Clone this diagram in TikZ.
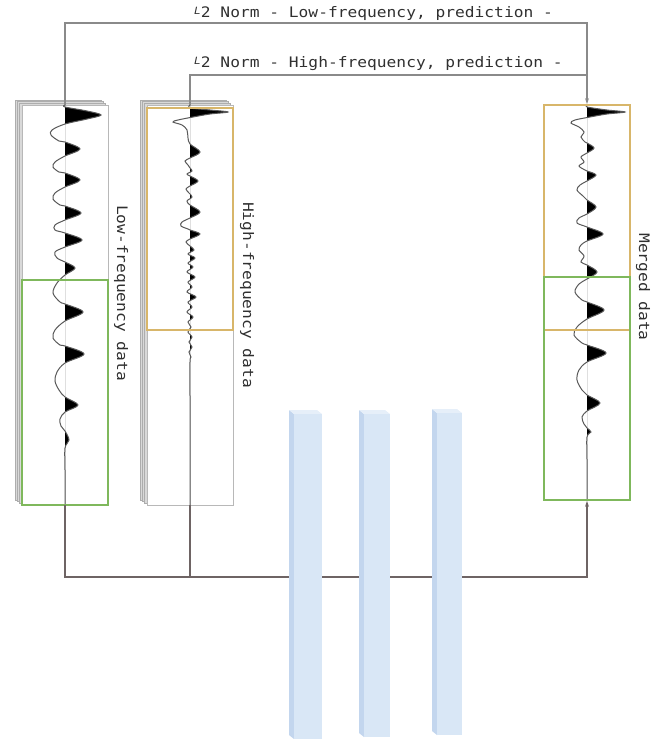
\documentclass[tikz,border=0pt]{standalone}
\usepackage{fontspec}
\newfontfamily\monolabel[FakeStretch=1.12]{DejaVu Sans Mono}
\usetikzlibrary{arrows.meta}

\definecolor{normgray}{HTML}{8A8A8A}
\definecolor{flowgray}{HTML}{6E6464}
\definecolor{boxgreen}{HTML}{7FB85C}
\definecolor{boxorange}{HTML}{D8B66A}
\definecolor{barblue}{HTML}{D9E7F6}
\definecolor{barside}{HTML}{C3D6EE}
\definecolor{bartop}{HTML}{E6EFF9}
\definecolor{textgray}{HTML}{303030}

\tikzset{
  panel/.style={draw=black!28, fill=white, line width=0.7pt, minimum width=86pt, minimum height=400pt, inner sep=0pt},
  sheet/.style={draw=black!32, fill=black!15, line width=0.5pt},
  winbox/.style={draw=#1, line width=1.8pt, minimum width=86pt, inner sep=0pt},
  trace/.style={draw=black!65, line width=1pt},
  normline/.style={draw=normgray, line width=1.1pt},
  flowline/.style={draw=flowgray, line width=1.3pt},
  tip/.style={-{Stealth[length=6pt,width=4pt]}},
  axislabel/.style={font=\monolabel\fontsize{14.5}{15}\selectfont, text=textgray, inner sep=0pt},
}

% wiggle trace: #1 axis x, #2 list of (offset,y)
\newcommand{\seistrace}[2]{%
  \begin{scope}[shift={(#1,0)}]
    \begin{scope}
      \clip (0,95) rectangle (60,520);
      \fill[black] plot[smooth, tension=0.55] coordinates {#2} -- cycle;
    \end{scope}
    \draw[trace] plot[smooth, tension=0.55] coordinates {#2};
  \end{scope}}

% network layer: #1 left, #2 top, #3 right, #4 bottom
\newcommand{\layerbar}[4]{%
  \fill[barside] (#1,#2) -- (#1-5,#2-4) -- (#1-5,#4-4) -- (#1,#4) -- cycle;
  \fill[bartop] (#1,#2) -- (#1-5,#2-4) -- (#3-5,#2-4) -- (#3,#2) -- cycle;
  \fill[barblue] (#1,#2) rectangle (#3,#4);}

\newcommand{\Ltwo}{{\fontsize{10}{10}\selectfont\itshape\raisebox{3pt}{L}}2}

\begin{document}
\begin{tikzpicture}[x=1pt, y=-1pt]
\useasboundingbox (0,0) rectangle (670,739);
%\draw[help lines, step=50] (0,0) grid (670,739);

% stacked sheets behind the input panels
\foreach \k in {3,2,1} {
  \draw[sheet, shift={(-2.3*\k,-1.7*\k)}] (22,105) rectangle (108,505);
  \draw[sheet, shift={(-2.3*\k,-1.7*\k)}] (147,105) rectangle (233,505);
}
\node[panel] (lowpanel) at (65,305) {};
\node[panel] (highpanel) at (190,305) {};

% traces
\seistrace{65}{(0,105) (0,107) (22,111) (36,115) (22,119) (0,124) (-13,130) (-14,135) (-6,141) (0,142) (15,149) (0,156) (-10,162) (-12,167) (-6,172) (0,173) (15,180) (0,187) (-10,193) (-12,199) (-5,205) (0,206) (16,213) (0,220) (-10,225) (-10,230) (0,233) (17,240) (0,247) (-10,252) (-8,258) (0,262) (10,268) (0,275) (-8,283) (-12,293) (-5,302) (0,304) (18,312) (0,321) (-10,330) (-12,338) (-5,345) (0,346) (19,354) (0,363) (-8,372) (-10,381) (-6,390) (0,397) (13,405) (0,412) (-5,419) (-4,426) (0,431) (4,440) (0,448) (0,470) (0,505)}
\seistrace{190}{(0,105) (0,108) (20,110) (38,112) (20,114) (3,117) (-12,120) (-17,122) (-8,125) (-3,130) (-2,138) (0,144) (10,152) (0,158) (-5,161) (-2,165) (0,168) (2,171) (-3,174) (0,176) (8,181) (0,186) (-4,189) (-1,193) (2,197) (-3,201) (0,205) (10,212) (0,218) (-8,222) (-9,226) (-2,229) (0,230) (10,234) (0,239) (-4,242) (0,246) (4,250) (-2,254) (5,258) (-2,263) (3,267) (-3,272) (5,277) (-2,282) (2,287) (-3,292) (6,297) (-2,302) (2,307) (-3,312) (3,317) (-2,322) (1,327) (-2,332) (2,337) (-1,342) (2,347) (-1,352) (1,357) (0,362) (0,400) (0,505)}
\seistrace{587}{(0,105) (0,107) (20,110) (38,112) (20,114) (3,117) (-12,120) (-16,123) (-8,127) (-3,132) (-6,137) (-2,142) (0,143) (7,148) (0,153) (-6,157) (-3,162) (-8,166) (-2,170) (0,171) (9,175) (0,181) (-7,185) (-10,190) (-4,196) (0,200) (9,207) (0,214) (-8,218) (-10,223) (0,227) (16,234) (0,241) (-6,245) (-8,250) (-3,256) (-6,262) (0,265) (10,272) (0,279) (-8,284) (-12,292) (-5,300) (0,302) (17,310) (0,319) (-10,327) (-13,335) (-5,343) (0,345) (19,353) (0,362) (-8,370) (-10,380) (-5,390) (0,395) (13,403) (0,411) (-5,417) (-3,424) (0,428) (4,432) (0,437) (0,460) (0,500)}

% windows
\node[winbox=boxgreen, minimum height=225pt] (lowwin) at (65,392.5) {};
\node[winbox=boxorange, minimum height=222pt] (highwin) at (190,219) {};
\node[winbox=boxorange, minimum height=225pt] (mhigh) at (587,217.5) {};
\node[winbox=boxgreen, minimum height=223pt] (mlow) at (587,388.5) {};

% labels
\node[axislabel, rotate=-90] (lowlabel) at (121,293) {Low-frequency data};
\node[axislabel, rotate=-90] (highlabel) at (247,295) {High-frequency data};
\node[axislabel, rotate=-90] (mergedlabel) at (643,287) {Merged data};

% loss connectors
\coordinate (lowtop) at (65,23);
\coordinate (hightop) at (190,75);
\draw[normline, tip] (lowpanel.north) -- (lowtop) -| (mhigh.north);
\draw[normline] (highpanel.north) -- (hightop) -- (hightop -| mhigh.north);
\node[axislabel, anchor=base west] (lownorm) at (194,17) {\Ltwo{} Norm - Low-frequency, prediction -};
\node[axislabel, anchor=base west] (highnorm) at (194,67) {\Ltwo{} Norm - High-frequency, prediction -};

% network input/output
\coordinate (lowbase) at (65,577);
\draw[flowline, tip] (lowpanel.south) -- (lowbase) -| (mlow.south);
\draw[flowline] (highpanel.south) -- (highpanel.south |- lowbase);

% layers
\layerbar{294}{414}{322}{739}
\layerbar{364}{414}{390}{737}
\layerbar{437}{413}{462}{735}

\end{tikzpicture}
\end{document}
